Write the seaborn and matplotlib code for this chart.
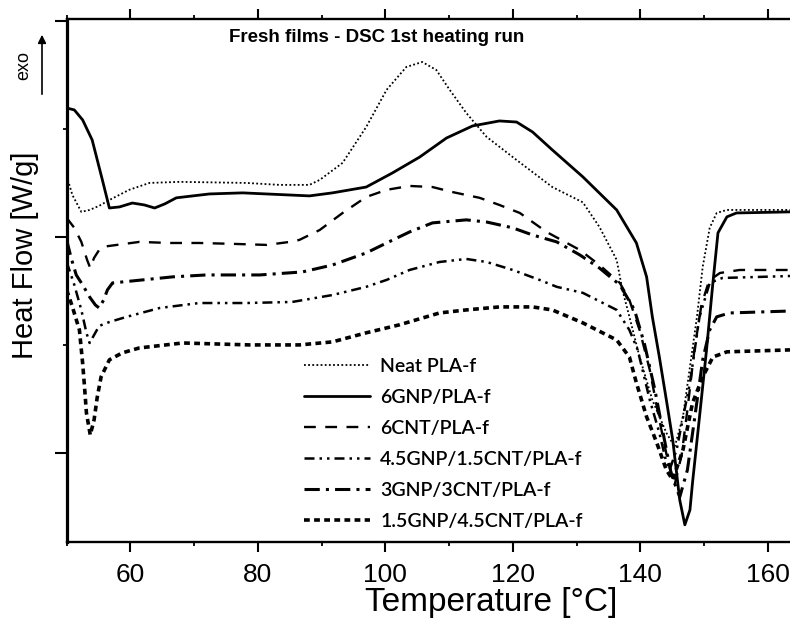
import numpy as np
import pandas as pd
import seaborn as sns
import matplotlib.pyplot as plt
from matplotlib.ticker import MultipleLocator

sns.set_style("ticks")
plt.rcParams['font.family'] = ['Liberation Sans', 'DejaVu Sans']
plt.rcParams['text.color'] = 'black'
plt.rcParams['axes.labelcolor'] = 'black'
plt.rcParams['xtick.color'] = 'black'
plt.rcParams['ytick.color'] = 'black'
plt.rcParams['axes.edgecolor'] = 'black'

# values (temperature in C, heat flow in arbitrary W/g units)
neat_t = [50.0, 50.9, 52.3, 53.6, 55.1, 56.7, 59.8, 63.0, 67.7, 78.2, 83.4, 88.1, 89.7, 93.3,
          97.0, 100.2, 103.3, 105.8, 108.0, 110.1, 112.7, 115.9, 120.6, 126.2, 131.0, 133.6,
          136.3, 137.2, 138.3, 139.9, 141.9, 144.1, 145.4, 146.7, 147.8, 148.9, 149.8, 150.9,
          152.0, 153.6, 163.5]
neat_hf = [1.282, 1.194, 1.116, 1.125, 1.144, 1.171, 1.218, 1.250, 1.255, 1.250, 1.241, 1.241,
           1.264, 1.343, 1.509, 1.681, 1.787, 1.810, 1.773, 1.681, 1.574, 1.463, 1.356, 1.231,
           1.160, 1.046, 0.894, 0.755, 0.630, 0.444, 0.245, 0.093, 0.028, 0.167, 0.398, 0.630,
           0.861, 1.042, 1.111, 1.125, 1.125]

gnp6_t = [50.0, 51.2, 52.5, 54.0, 55.6, 56.7, 58.3, 60.3, 62.2, 63.8, 65.4, 67.2, 72.4, 77.6,
          88.1, 91.7, 97.0, 101.1, 105.4, 109.6, 113.7, 117.9, 120.6, 123.1, 126.2, 131.0,
          136.3, 139.4, 141.0, 141.9, 143.0, 144.1, 145.1, 146.2, 147.0, 147.8, 148.2, 149.3,
          150.4, 151.4, 152.2, 153.6, 155.1, 163.5]
gnp6_hf = [1.597, 1.588, 1.542, 1.449, 1.264, 1.134, 1.139, 1.157, 1.148, 1.134, 1.153, 1.181,
           1.199, 1.204, 1.190, 1.204, 1.231, 1.296, 1.370, 1.458, 1.514, 1.537, 1.532, 1.486,
           1.403, 1.278, 1.125, 0.972, 0.815, 0.630, 0.444, 0.245, 0.060, -0.218, -0.333,
           -0.264, -0.139, 0.167, 0.477, 0.787, 1.019, 1.093, 1.111, 1.116]

cnt6_t = [50.0, 51.2, 52.3, 53.2, 53.7, 54.3, 55.1, 55.6, 61.4, 66.1, 70.8, 76.0, 81.4, 85.0,
          86.5, 89.7, 93.3, 97.0, 100.2, 103.8, 107.4, 110.5, 114.8, 117.9, 121.1, 125.3,
          130.5, 133.6, 136.8, 138.3, 139.9, 141.5, 143.0, 144.3, 145.4, 146.5, 147.4, 148.5,
          149.6, 150.6, 151.4, 152.5, 155.6, 163.5]
cnt6_hf = [1.088, 1.042, 0.977, 0.894, 0.856, 0.903, 0.940, 0.954, 0.977, 0.972, 0.972, 0.968,
           0.963, 0.977, 0.986, 1.032, 1.111, 1.185, 1.218, 1.236, 1.231, 1.208, 1.181, 1.148,
           1.111, 1.023, 0.940, 0.870, 0.787, 0.708, 0.569, 0.384, 0.153, -0.032, -0.148,
           -0.009, 0.199, 0.477, 0.685, 0.778, 0.810, 0.833, 0.847, 0.847]

g45_t = [50.0, 51.2, 52.3, 53.1, 53.6, 54.3, 55.1, 56.7, 59.4, 64.6, 70.8, 78.2, 85.4, 91.7,
         97.0, 100.2, 103.8, 108.5, 112.7, 115.9, 120.0, 124.2, 126.9, 131.0, 136.3, 138.3,
         139.6, 141.5, 143.0, 144.0, 144.6, 145.7, 147.8, 149.3, 150.9, 152.9, 163.5]
g45_hf = [0.884, 0.778, 0.662, 0.556, 0.509, 0.546, 0.588, 0.606, 0.630, 0.671, 0.694, 0.694,
          0.699, 0.731, 0.769, 0.801, 0.847, 0.884, 0.898, 0.884, 0.847, 0.801, 0.769, 0.741,
          0.662, 0.569, 0.477, 0.245, 0.093, -0.032, -0.079, 0.014, 0.324, 0.630, 0.787,
          0.810, 0.819]

g3_t = [50.0, 50.7, 51.5, 52.5, 53.6, 54.5, 55.1, 55.8, 56.4, 57.2, 61.9, 66.6, 71.9, 80.3,
        87.0, 91.7, 97.0, 100.2, 103.8, 107.4, 112.7, 115.9, 120.0, 123.1, 126.9, 130.5,
        133.6, 136.8, 139.1, 140.7, 142.3, 143.8, 144.9, 146.2, 147.4, 148.5, 149.8, 150.9,
        152.0, 154.0, 163.5]
g3_hf = [0.986, 0.903, 0.824, 0.778, 0.722, 0.685, 0.671, 0.708, 0.755, 0.787, 0.801, 0.815,
         0.824, 0.824, 0.838, 0.870, 0.926, 0.972, 1.023, 1.065, 1.079, 1.069, 1.042, 1.009,
         0.977, 0.917, 0.856, 0.778, 0.662, 0.500, 0.292, 0.060, -0.102, -0.204, -0.079,
         0.153, 0.431, 0.569, 0.630, 0.648, 0.657]

g15_t = [50.0, 50.9, 52.0, 52.5, 52.8, 53.1, 53.7, 54.3, 54.8, 55.4, 56.7, 58.7, 61.4, 68.2,
         78.7, 86.5, 91.7, 97.0, 102.2, 108.5, 112.7, 117.9, 123.1, 126.2, 131.0, 136.3,
         138.3, 139.4, 141.0, 142.6, 144.1, 145.1, 146.7, 148.2, 149.8, 151.4, 153.6, 163.5]
g15_hf = [0.755, 0.676, 0.569, 0.417, 0.306, 0.185, 0.083, 0.153, 0.259, 0.352, 0.431, 0.463,
          0.486, 0.509, 0.500, 0.500, 0.514, 0.556, 0.593, 0.648, 0.662, 0.676, 0.676, 0.662,
          0.602, 0.523, 0.444, 0.324, 0.167, 0.046, -0.079, -0.125, 0.014, 0.231, 0.352,
          0.444, 0.468, 0.477]

labels = ['Neat PLA-f', '6GNP/PLA-f', '6CNT/PLA-f', '4.5GNP/1.5CNT/PLA-f',
          '3GNP/3CNT/PLA-f', '1.5GNP/4.5CNT/PLA-f']
temps = [neat_t, gnp6_t, cnt6_t, g45_t, g3_t, g15_t]
flows = [neat_hf, gnp6_hf, cnt6_hf, g45_hf, g3_hf, g15_hf]

df = pd.concat([pd.DataFrame({'T': t, 'HF': h, 'sample': lab})
                for t, h, lab in zip(temps, flows, labels)], ignore_index=True)

dashes = {
    'Neat PLA-f': (1, 1.3),
    '6GNP/PLA-f': '',
    '6CNT/PLA-f': (5, 4),
    '4.5GNP/1.5CNT/PLA-f': (4, 2, 1, 2, 1, 2),
    '3GNP/3CNT/PLA-f': (5, 2, 1, 2),
    '1.5GNP/4.5CNT/PLA-f': (1.6, 1.2),
}
widths = {
    'Neat PLA-f': 1.3,
    '6GNP/PLA-f': 2.0,
    '6CNT/PLA-f': 1.7,
    '4.5GNP/1.5CNT/PLA-f': 1.8,
    '3GNP/3CNT/PLA-f': 2.2,
    '1.5GNP/4.5CNT/PLA-f': 2.6,
}

fig = plt.figure(figsize=(7.9, 6.25), dpi=100)
ax = fig.add_axes([0.0844, 0.1333, 0.9156, 0.8363])

sns.lineplot(data=df, x='T', y='HF', style='sample', size='sample',
             style_order=labels, size_order=labels, dashes=dashes, sizes=widths,
             color='black', estimator=None, sort=False, ax=ax)

ax.set_xlim(50, 163.5)
ax.set_ylim(-0.411, 2.009)
ax.xaxis.set_major_locator(MultipleLocator(20))
ax.xaxis.set_minor_locator(MultipleLocator(10))
ax.yaxis.set_major_locator(MultipleLocator(1))
ax.yaxis.set_minor_locator(MultipleLocator(0.5))
ax.tick_params(axis='y', labelleft=False)
ax.tick_params(which='both', direction='out', top=True, right=False, color='black')
ax.tick_params(which='major', length=7, width=1.5, labelsize=19, pad=8)
ax.tick_params(which='minor', length=3, width=1.3)
ax.tick_params(axis='y', which='major', length=9)
ax.spines['right'].set_visible(False)
ax.spines['left'].set_linewidth(2.3)
ax.spines['bottom'].set_linewidth(1.7)
ax.spines['top'].set_linewidth(1.7)

ax.set_xlabel('')
ax.set_ylabel('')
fig.text(491 / 790, 1 - 602 / 625, 'Temperature [°C]', fontsize=24,
         ha='center', va='center')
fig.text(25 / 790, 1 - 255 / 625, 'Heat Flow [W/g]', rotation=90, fontsize=21,
         ha='center', va='center')

fig.text(377 / 790, 1 - 38 / 625, 'Fresh films - DSC 1st heating run', fontsize=13.5,
         fontweight='bold', ha='center', va='center')

fig.text(24 / 790, 1 - 66 / 625, 'exo', rotation=90, fontsize=13, ha='center', va='center')
ax.annotate('', xy=(42, 625 - 32), xytext=(42, 625 - 97), xycoords='figure pixels',
            textcoords='figure pixels', annotation_clip=False,
            arrowprops=dict(arrowstyle='-|>', lw=1.2, color='black', mutation_scale=12))

handles, labs = ax.get_legend_handles_labels()
ax.legend(handles, labs, loc='upper left', bbox_to_anchor=(0.315, 0.37), frameon=False,
          prop={'family': ['Lato', 'DejaVu Sans'], 'size': 14, 'weight': 'semibold'},
          handlelength=3.4, handletextpad=0.5, labelspacing=0.72, borderpad=0)

fig.savefig('out.png', dpi=100)
